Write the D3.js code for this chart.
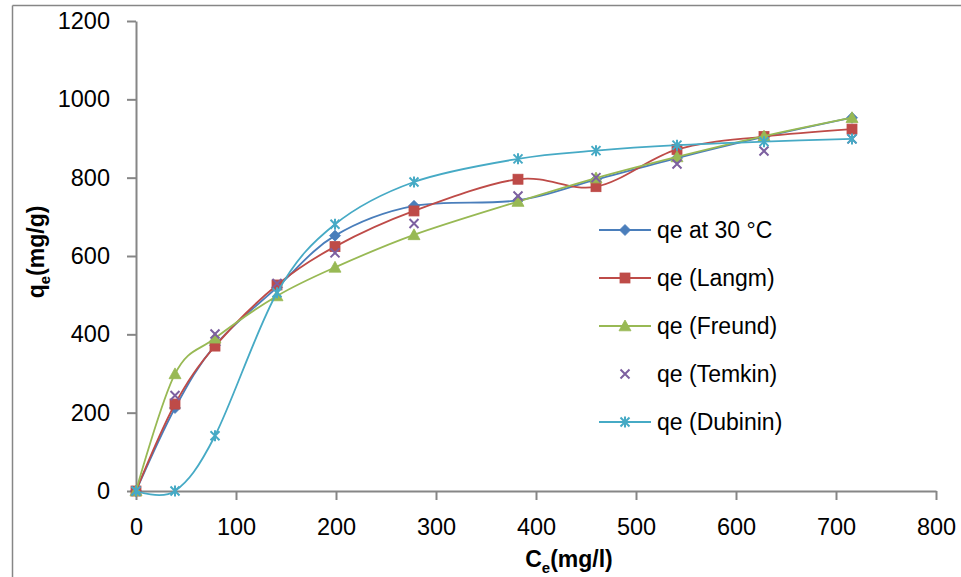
<!DOCTYPE html>
<html>
<head>
<meta charset="utf-8">
<script src="https://cdn.jsdelivr.net/npm/d3@7"></script>
<style>
  html, body { margin: 0; padding: 0; background: #fff; }
  svg { display: block; }
</style>
</head>
<body>
<svg id="chart" width="961" height="577"></svg>
<script>
// ---------- data ----------
const ce = [0, 39, 79, 141, 199, 278, 382, 460, 541, 628, 716];
const qe30     = [0, 212, 372, 520, 652, 728, 742, 795, 850, 904, 953];
const qeLangm  = [0, 222, 370, 526, 624, 715, 796, 777, 872, 905, 924];
const qeFreund = [0, 299, 390, 498, 571, 654, 739, 799, 853, 906, 953];
const qeTemkin = [0, 244, 401, 530, 608, 683, 753, 800, 835, 868, 899];
const qeDubin  = [0, 0, 141, 506, 681, 789, 848, 869, 883, 892, 899];
const seriesNames = ["qe at 30 \u00B0C", "qe (Langm)", "qe (Freund)", "qe (Temkin)", "qe (Dubinin)"];
const xTicks = [0, 100, 200, 300, 400, 500, 600, 700, 800];
const yTicks = [0, 200, 400, 600, 800, 1000, 1200];

const series = [
  { name: seriesNames[0], values: qe30,     color: "#4A7EBB", marker: "diamond",  line: true },
  { name: seriesNames[1], values: qeLangm,  color: "#BE4B48", marker: "square",   line: true },
  { name: seriesNames[2], values: qeFreund, color: "#98B954", marker: "triangle", line: true },
  { name: seriesNames[3], values: qeTemkin, color: "#7D60A0", marker: "x",        line: false },
  { name: seriesNames[4], values: qeDubin,  color: "#46AAC5", marker: "star",     line: true }
];

// ---------- layout ----------
const svg = d3.select("#chart");
const FONT = "'Liberation Sans', Arial, sans-serif";
const axisColor = "#868686";

const x = d3.scaleLinear().domain([0, 800]).range([136, 936]);
const y = d3.scaleLinear().domain([0, 1200]).range([491, 21]);

// chart area border (top & left visible)
svg.append("line").attr("x1", 12.5).attr("x2", 961).attr("y1", 5.5).attr("y2", 5.5)
  .attr("stroke", axisColor).attr("stroke-width", 1.5);
svg.append("line").attr("x1", 12.5).attr("x2", 12.5).attr("y1", 5.5).attr("y2", 577)
  .attr("stroke", axisColor).attr("stroke-width", 1.5);

// axes
const yAxis = svg.append("g").attr("transform", `translate(${x(0)},0)`)
  .call(d3.axisLeft(y).tickValues(yTicks).tickFormat(d3.format("d")).tickSize(9).tickPadding(17).tickSizeOuter(0));
const xAxis = svg.append("g").attr("transform", `translate(0,${y(0)})`)
  .call(d3.axisBottom(x).tickValues(xTicks).tickFormat(d3.format("d")).tickSize(9).tickPadding(18).tickSizeOuter(0));
[xAxis, yAxis].forEach(g => {
  g.select(".domain").attr("stroke", axisColor).attr("stroke-width", 2);
  g.selectAll(".tick line").attr("stroke", axisColor).attr("stroke-width", 2);
  g.selectAll(".tick text").attr("fill", "#000").style("font-family", FONT).style("font-size", "23.5px");
});

// axis titles
const xt = svg.append("text").attr("x", 569).attr("y", 567).attr("text-anchor", "middle")
  .style("font-family", FONT).style("font-size", "23px").style("font-weight", "bold");
xt.append("tspan").text("C");
xt.append("tspan").attr("dy", 6).style("font-size", "15px").text("e");
xt.append("tspan").attr("dy", -6).text("(mg/l)");

const yt = svg.append("text").attr("transform", "translate(44,252) rotate(-90)").attr("text-anchor", "middle")
  .style("font-family", FONT).style("font-size", "23px").style("font-weight", "bold");
yt.append("tspan").text("q");
yt.append("tspan").attr("dy", 6).style("font-size", "15px").text("e");
yt.append("tspan").attr("dy", -6).text("(mg/g)");

// ---------- markers ----------
function drawMarker(g, type, cx, cy, color) {
  if (type === "diamond") {
    const s = 5.5;
    g.append("path").attr("d", `M${cx},${cy - s}L${cx + s},${cy}L${cx},${cy + s}L${cx - s},${cy}Z`)
      .attr("fill", color).attr("stroke", color).attr("stroke-width", 0.8);
  } else if (type === "square") {
    const s = 5;
    g.append("rect").attr("x", cx - s).attr("y", cy - s).attr("width", 2 * s).attr("height", 2 * s)
      .attr("fill", color).attr("stroke", color).attr("stroke-width", 0.8);
  } else if (type === "triangle") {
    const s = 6;
    g.append("path").attr("d", `M${cx},${cy - s}L${cx + s},${cy + s * 0.8}L${cx - s},${cy + s * 0.8}Z`)
      .attr("fill", color).attr("stroke", color).attr("stroke-width", 0.8);
  } else if (type === "x") {
    const s = 4.5;
    g.append("path").attr("d", `M${cx - s},${cy - s}L${cx + s},${cy + s}M${cx - s},${cy + s}L${cx + s},${cy - s}`)
      .attr("stroke", color).attr("stroke-width", 2).attr("fill", "none");
  } else if (type === "star") {
    const s = 4.5;
    g.append("path").attr("d", `M${cx - s},${cy - s}L${cx + s},${cy + s}M${cx - s},${cy + s}L${cx + s},${cy - s}M${cx},${cy - s - 1}L${cx},${cy + s + 1}`)
      .attr("stroke", color).attr("stroke-width", 2).attr("fill", "none");
  }
}

// ---------- series ----------
const line = d3.line().x(d => x(d[0])).y(d => y(d[1])).curve(d3.curveCardinal.tension(0));
series.forEach(s => {
  const g = svg.append("g");
  const pts = ce.map((c, i) => [c, s.values[i]]);
  if (s.line) {
    g.append("path").attr("d", line(pts)).attr("fill", "none")
      .attr("stroke", s.color).attr("stroke-width", 1.8);
  }
  pts.forEach(p => drawMarker(g, s.marker, x(p[0]), y(p[1]), s.color));
});

// ---------- legend ----------
const legendY = [230, 278, 326, 374, 422];
series.forEach((s, i) => {
  const g = svg.append("g");
  const ly = legendY[i];
  if (s.line) {
    g.append("line").attr("x1", 599).attr("x2", 651).attr("y1", ly).attr("y2", ly)
      .attr("stroke", s.color).attr("stroke-width", 1.8);
  }
  drawMarker(g, s.marker, 625, ly, s.color);
  g.append("text").attr("x", 657).attr("y", ly).attr("dy", "0.35em")
    .style("font-family", FONT).style("font-size", "23px").attr("fill", "#000").text(s.name);
});
</script>
</body>
</html>
